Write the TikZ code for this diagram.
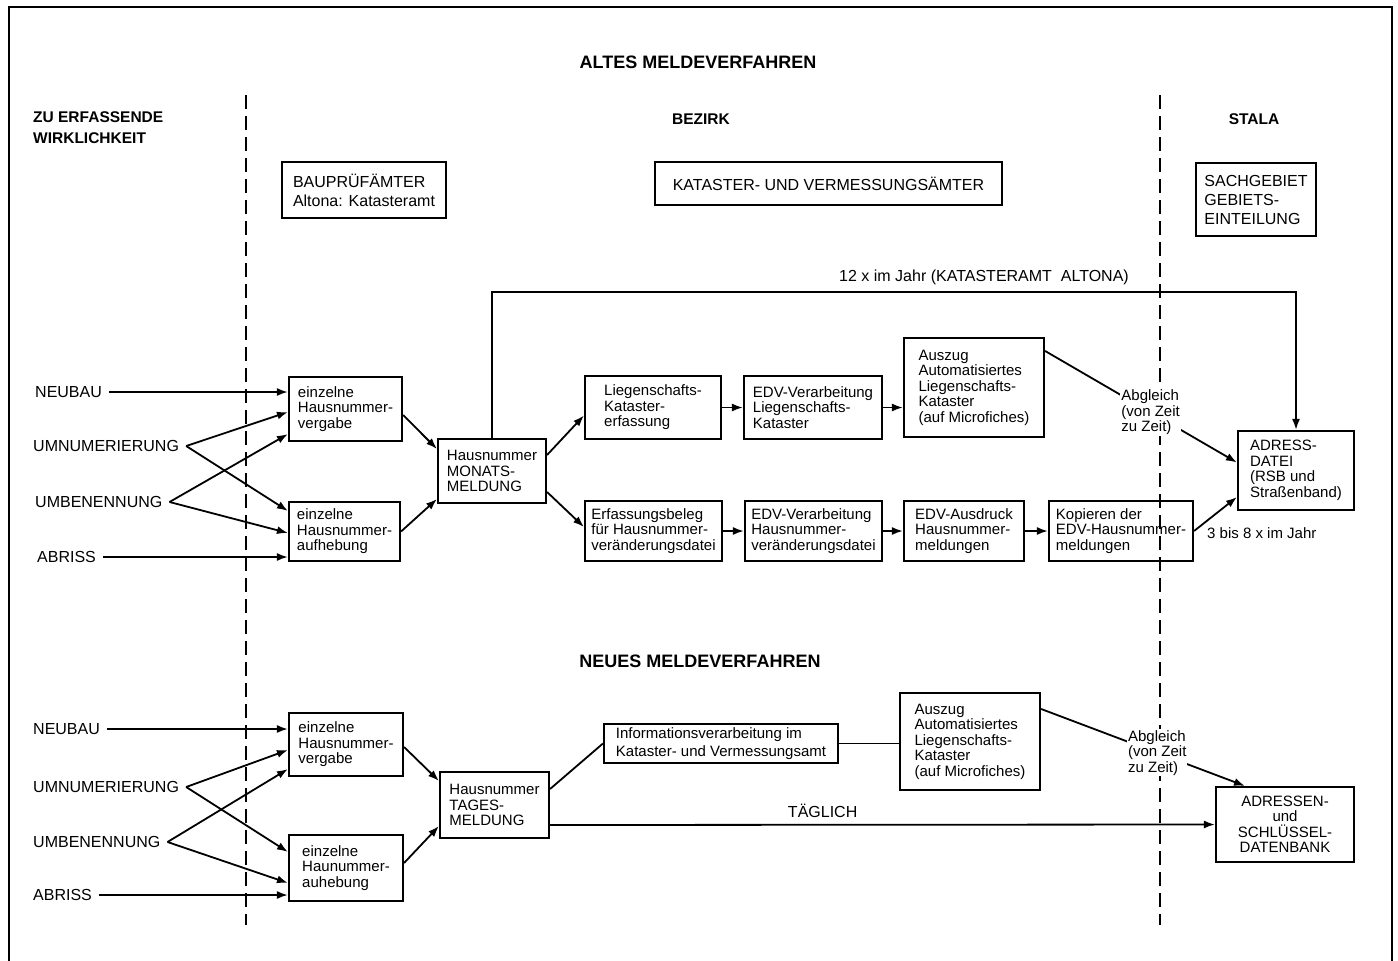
\documentclass[tikz,border=0pt]{standalone}
\usepackage{fontspec}
\setmainfont{Liberation Sans}
\usetikzlibrary{arrows.meta,positioning}

\newcommand\boxfont{\fontsize{15}{15.5}\selectfont}
\newcommand\headfont{\fontsize{16}{19}\selectfont}
\newcommand\labelfont{\fontsize{16}{16}\selectfont}

\begin{document}
\begin{tikzpicture}[
  x=1pt, y=-1pt,
  box/.style={rectangle, draw, line width=2.1pt, align=left, inner sep=3pt, font=\boxfont},
  headbox/.style={box, font=\headfont},
  event/.style={anchor=west, inner xsep=7pt, inner ysep=0pt, font=\labelfont},
  heading/.style={font=\bfseries\fontsize{15.5}{21}\selectfont, align=left, inner sep=0pt},
  proctitle/.style={font=\bfseries\fontsize{18}{18}\selectfont, inner sep=0pt},
  remark/.style={fill=white, inner sep=1pt, align=left, font=\boxfont},
  arr/.style={-{Latex[length=11pt,width=8pt]}, line width=1.8pt},
  link/.style={line width=1.8pt},
  divider/.style={line width=1.8pt, dash pattern=on 14pt off 7pt}
]
\useasboundingbox (0,0) rectangle (1398,961);

% frame and column dividers
\draw[line width=2.8pt] (9,961) -- (9,7) -- (1392,7) -- (1392,961);
\draw[divider] (246,95) -- (246,925);
\draw[divider] (1160,95) -- (1160,925);

% headings
\node[proctitle] (oldtitle) at (698,62) {ALTES MELDEVERFAHREN};
\node[heading, anchor=west] (reality) at (33,127.5) {ZU ERFASSENDE\\WIRKLICHKEIT};
\node[heading] (bezirk) at (701,119) {BEZIRK};
\node[heading] (stala) at (1254,119) {STALA};

\node[headbox, minimum width=164pt, minimum height=56pt] (bau) at (364,190) {BAUPRÜFÄMTER\\Altona: Katasteramt};
\node[headbox, minimum width=347pt, minimum height=43pt] (kat) at (828.5,183.5) {KATASTER- UND VERMESSUNGSÄMTER};
\node[headbox, minimum width=120pt, minimum height=73pt] (sach) at (1256,199.5) {SACHGEBIET\\GEBIETS-\\EINTEILUNG};

% old procedure
\node[event] (neubauA) at (28,392) {NEUBAU};
\node[event] (umnumA) at (26,446) {UMNUMERIERUNG};
\node[event] (umbenA) at (28,502) {UMBENENNUNG};
\node[event] (abrissA) at (30,557) {ABRISS};

\node[box, minimum width=113pt, minimum height=64pt] (vergabeA) at (345.5,409) {einzelne\\Hausnummer-\\vergabe};
\node[box, minimum width=111pt, minimum height=59pt] (aufhebungA) at (344.5,531.5) {einzelne\\Hausnummer-\\aufhebung};
\node[box, minimum width=108pt, minimum height=64pt] (monat) at (492,471) {Hausnummer\\MONATS-\\MELDUNG};
\node[box, minimum width=136pt, minimum height=63pt] (liegen) at (653,407.5) {Liegenschafts-\\Kataster-\\erfassung};
\node[box, minimum width=138pt, minimum height=63pt] (edvliegen) at (813,407.5) {EDV-Verarbeitung\\Liegenschafts-\\Kataster};
\node[box, minimum width=140pt, minimum height=99pt] (auszugA) at (974,387.5) {Auszug\\Automatisiertes\\Liegenschafts-\\Kataster\\(auf Microfiches)};
\node[box, minimum width=137pt, minimum height=60pt] (beleg) at (653.5,531) {Erfassungsbeleg\\für Hausnummer-\\veränderungsdatei};
\node[box, minimum width=137pt, minimum height=60pt] (edvhaus) at (813.5,531) {EDV-Verarbeitung\\Hausnummer-\\veränderungsdatei};
\node[box, minimum width=120pt, minimum height=60pt] (ausdruck) at (964,531) {EDV-Ausdruck\\Hausnummer-\\meldungen};
\node[box, minimum width=144pt, minimum height=60pt] (kopie) at (1121,531) {Kopieren der\\EDV-Hausnummer-\\meldungen};
\node[box, minimum width=116pt, minimum height=79pt] (adressdatei) at (1296,470.5) {ADRESS-\\DATEI\\(RSB und\\Straßenband)};
\node[anchor=west, font=\boxfont, inner sep=0pt] (jahr) at (1207,533) {3 bis 8 x im Jahr};
\node[font=\labelfont, inner sep=0pt] (zwoelf) at (984,277) {12 x im Jahr (KATASTERAMT\ \ ALTONA)};

\draw[arr] (neubauA.east) -- (neubauA.east -| vergabeA.west);
\draw[arr] (umnumA.east) -- ([yshift=-3pt]vergabeA.west);
\draw[arr] (umnumA.east) -- ([yshift=-10pt]aufhebungA.north west);
\draw[arr] (umbenA.east) -- ([yshift=8pt]vergabeA.south west);
\draw[arr] (umbenA.east) -- ([yshift=-1.5pt]aufhebungA.west);
\draw[arr] (abrissA.east) -- (abrissA.east -| aufhebungA.west);
\draw[arr] ([yshift=-6pt]vergabeA.east) -- ([yshift=-11pt]monat.north west);
\draw[arr] (aufhebungA.east) -- ([yshift=5pt]monat.south west);
\draw[arr] ([yshift=16pt]monat.east) -- ([yshift=-8pt]liegen.west);
\draw[arr] ([yshift=-21pt]monat.east) -- ([yshift=4pt]beleg.west);
\draw[arr] (liegen) -- (edvliegen);
\draw[arr] (edvliegen.east) -- (edvliegen.east -| auszugA.west);
\draw[arr] (beleg) -- (edvhaus);
\draw[arr] (edvhaus) -- (ausdruck);
\draw[arr] (ausdruck) -- (kopie);
\draw[arr] (kopie.east) -- ([yshift=14pt]adressdatei.south west);
\draw[arr] ([yshift=-14pt]auszugA.north east) -- node[remark, pos=0.55] (abgleichA) {Abgleich\\(von Zeit\\zu Zeit)} ([yshift=8pt]adressdatei.west);
\draw[arr] (monat.north) |- ([yshift=138pt]adressdatei.north) -- (adressdatei.north);

% new procedure
\node[proctitle] (newtitle) at (700,661) {NEUES MELDEVERFAHREN};

\node[event] (neubauB) at (26,729) {NEUBAU};
\node[event] (umnumB) at (26,787) {UMNUMERIERUNG};
\node[event] (umbenB) at (26,842) {UMBENENNUNG};
\node[event] (abrissB) at (26,895) {ABRISS};

\node[box, minimum width=114pt, minimum height=63pt] (vergabeB) at (346,744.5) {einzelne\\Hausnummer-\\vergabe};
\node[box, minimum width=114pt, minimum height=66pt] (aufhebungB) at (346,868) {einzelne\\Haunummer-\\auhebung};
\node[box, minimum width=109pt, minimum height=66pt] (tag) at (494.5,805) {Hausnummer\\TAGES-\\MELDUNG};
\node[box, minimum width=234pt, minimum height=39pt, font=\fontsize{15}{18}\selectfont] (info) at (721,743.5) {Informationsverarbeitung im\\Kataster- und Vermessungsamt};
\node[box, minimum width=140pt, minimum height=97pt] (auszugB) at (970,741.5) {Auszug\\Automatisiertes\\Liegenschafts-\\Kataster\\(auf Microfiches)};
\node[box, minimum width=138pt, minimum height=75pt, align=center] (datenbank) at (1285,824.5) {ADRESSEN-\\und\\SCHLÜSSEL-\\DATENBANK};

\draw[arr] (neubauB.east) -- (neubauB.east -| vergabeB.west);
\draw[arr] (umnumB.east) -- ([yshift=-5.5pt]vergabeB.west);
\draw[arr] (umnumB.east) -- ([yshift=-18pt]aufhebungB.north west);
\draw[arr] (umbenB.east) -- ([yshift=8pt]vergabeB.south west);
\draw[arr] (umbenB.east) -- ([yshift=-15pt]aufhebungB.west);
\draw[arr] (abrissB.east) -- (abrissB.east -| aufhebungB.west);
\draw[arr] ([yshift=-2.5pt]vergabeB.east) -- ([yshift=-10pt]tag.north west);
\draw[arr] ([yshift=5pt]aufhebungB.east) -- ([yshift=13pt]tag.south west);
\draw[link] ([yshift=16pt]tag.east) -- (info.west);
\draw[link] (info.east) -- (info.east -| auszugB.west);
\draw[arr] ([yshift=-20pt]tag.east) -- node[pos=0.41, above=6pt, inner sep=0pt, font=\labelfont] (taeglich) {TÄGLICH} (datenbank.west);
\draw[arr] ([yshift=-17pt]auszugB.north east) -- node[remark, pos=0.57] (abgleichB) {Abgleich\\(von Zeit\\zu Zeit)} ([xshift=-40pt]datenbank.north);
\end{tikzpicture}
\end{document}
